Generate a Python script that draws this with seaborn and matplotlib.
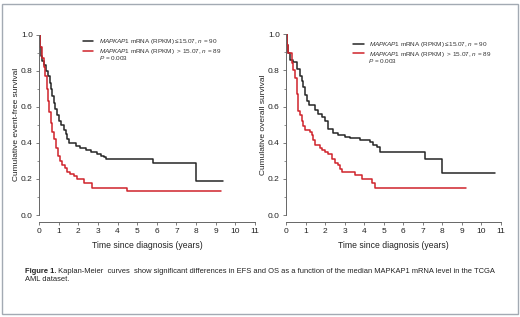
import matplotlib
matplotlib.use("Agg")
import matplotlib.pyplot as plt
from matplotlib.patches import Rectangle
from matplotlib.ticker import MultipleLocator
import seaborn as sns
import pandas as pd

# ---- data ----
efs_low_t = [0, 0.03, 0.08, 0.15, 0.25, 0.35, 0.45, 0.55, 0.62, 0.68, 0.75, 0.82, 0.90, 1.00, 1.10,
             1.25, 1.35, 1.45, 1.55, 1.90, 2.10, 2.40, 2.65, 2.95, 3.15, 3.30, 3.42, 5.83, 7.99, 9.39]
efs_low_s = [1.0, 0.93, 0.88, 0.855, 0.83, 0.80, 0.77, 0.73, 0.70, 0.66, 0.62, 0.59, 0.555, 0.52, 0.50,
             0.47, 0.45, 0.42, 0.40, 0.38, 0.37, 0.36, 0.35, 0.34, 0.33, 0.32, 0.31, 0.287, 0.19, 0.19]
efs_high_t = [0, 0.05, 0.15, 0.25, 0.33, 0.40, 0.47, 0.53, 0.60, 0.67, 0.75, 0.85, 0.95, 1.05, 1.15,
              1.30, 1.45, 1.60, 1.80, 1.95, 2.30, 2.72, 4.50, 9.25]
efs_high_s = [1.0, 0.93, 0.87, 0.82, 0.77, 0.70, 0.63, 0.57, 0.51, 0.46, 0.42, 0.37, 0.33, 0.30, 0.28,
              0.26, 0.24, 0.23, 0.215, 0.20, 0.18, 0.148, 0.133, 0.133]

os_low_t = [0, 0.05, 0.12, 0.20, 0.38, 0.55, 0.72, 0.80, 0.89, 0.97, 1.06, 1.20, 1.49, 1.66, 1.83,
            2.00, 2.17, 2.42, 2.68, 3.00, 3.28, 3.79, 4.30, 4.47, 4.65, 4.82, 7.14, 7.97, 10.7]
os_low_s = [1.0, 0.94, 0.895, 0.86, 0.845, 0.81, 0.77, 0.74, 0.71, 0.664, 0.63, 0.61, 0.58, 0.56, 0.54,
            0.52, 0.475, 0.455, 0.443, 0.434, 0.424, 0.415, 0.405, 0.39, 0.378, 0.347, 0.312, 0.233, 0.233]
os_high_t = [0, 0.05, 0.12, 0.29, 0.38, 0.46, 0.55, 0.63, 0.72, 0.80, 0.89, 0.97, 1.23, 1.31, 1.40,
             1.49, 1.74, 1.83, 2.00, 2.17, 2.34, 2.51, 2.68, 2.77, 2.85, 3.53, 3.88, 4.40, 4.56, 9.22]
os_high_s = [1.0, 0.94, 0.895, 0.84, 0.80, 0.76, 0.67, 0.575, 0.553, 0.52, 0.49, 0.47, 0.46, 0.44, 0.415,
             0.385, 0.37, 0.36, 0.35, 0.335, 0.31, 0.29, 0.275, 0.255, 0.236, 0.222, 0.198, 0.178, 0.151, 0.151]

label_low = r"$\mathit{MAPK\!AP1}$ mRNA (RPKM) ≤15.07, $\mathit{n}$ = 90"
label_high = r"$\mathit{MAPK\!AP1}$ mRNA (RPKM)  > 15.07, $\mathit{n}$ = 89"
p_text = r"$\mathit{P}$ = 0.003"
ylabels = ["Cumulative event-free survival", "Cumulative overall survival"]
xlabel = "Time since diagnosis (years)"
caption_bold = "Figure 1."
caption_rest1 = " Kaplan-Meier  curves  show significant differences in EFS and OS as a function of the median MAPKAP1 mRNA level in the TCGA"
caption_rest2 = "AML dataset."

colors = {"low": "#262626", "high": "#d0232b"}

sns.set_theme(style="ticks")
plt.rcParams["font.family"] = ["Liberation Sans", "DejaVu Sans"]
plt.rcParams["mathtext.fontset"] = "custom"
plt.rcParams["mathtext.rm"] = "Liberation Sans"
plt.rcParams["mathtext.it"] = "Liberation Sans:italic"

W, H = 520, 317
fig = plt.figure(figsize=(W / 100, H / 100), dpi=100)

def px_axes(l, r, t, b):
    return fig.add_axes([l / W, 1 - b / H, (r - l) / W, (b - t) / H])

axes = [px_axes(39, 255, 34.7, 215), px_axes(286, 500.7, 34.3, 215)]
datasets = [(efs_low_t, efs_low_s, efs_high_t, efs_high_s),
            (os_low_t, os_low_s, os_high_t, os_high_s)]
leg_anchor = [(0.202, 0.985), (0.311, 0.968)]
p_pos = [(0.279, 0.868), (0.382, 0.851)]

for ax, (lt, ls, ht, hs), ylab, la, pp in zip(axes, datasets, ylabels, leg_anchor, p_pos):
    df = pd.concat([
        pd.DataFrame({"t": lt, "s": ls, "g": "low"}),
        pd.DataFrame({"t": ht, "s": hs, "g": "high"}),
    ], ignore_index=True)
    sns.lineplot(data=df, x="t", y="s", hue="g", palette=colors, estimator=None, sort=False,
                 drawstyle="steps-post", linewidth=1.1, ax=ax, legend=False)
    ax.set_xlim(0, 11)
    ax.set_ylim(0, 1.0)
    ax.set_xticks(range(0, 12))
    ax.set_yticks([0, 0.2, 0.4, 0.6, 0.8, 1.0])
    ax.yaxis.set_minor_locator(MultipleLocator(0.1))
    ax.set_yticklabels(["0.0", "0.2", "0.4", "0.6", "0.8", "1.0"])
    for s in ["top", "right"]:
        ax.spines[s].set_visible(False)
    for s in ["left", "bottom"]:
        ax.spines[s].set_color("#666666")
        ax.spines[s].set_linewidth(0.7)
    ax.spines["bottom"].set_position(("outward", 5))
    ax.tick_params(axis="both", which="major", length=2.5, width=0.6, color="#666666",
                   labelsize=6.0, labelcolor="#222222", pad=2)
    ax.tick_params(axis="y", which="minor", length=1.5, width=0.5, color="#666666")
    ax.set_xlabel(xlabel, fontsize=6.2, color="#222222", labelpad=4)
    ax.set_ylabel(ylab, fontsize=6.0, color="#222222", labelpad=0.8)
    lines = ax.get_lines()
    leg = ax.legend(lines[:2], [label_low, label_high], loc="upper left", bbox_to_anchor=la,
                    frameon=False, fontsize=4.6, handlelength=1.7, handletextpad=0.85,
                    labelspacing=0.1, borderaxespad=0, borderpad=0, labelcolor="#333333")
    for h in leg.legend_handles:
        h.set_linewidth(1.1)
    ax.text(pp[0], pp[1], p_text, transform=ax.transAxes, fontsize=4.6, color="#333333",
            ha="left", va="center")

# caption
cap_fs = 5.45
y1 = 1 - 271.5 / H
y2 = 1 - 279.3 / H
tb = fig.text(25 / W, y1, caption_bold, fontsize=cap_fs, fontweight="bold", color="#222222",
              ha="left", va="center")
fig.canvas.draw()
bb = tb.get_window_extent(renderer=fig.canvas.get_renderer())
fig.text(bb.x1 / W, y1, caption_rest1, fontsize=cap_fs, color="#222222", ha="left", va="center")
fig.text(25 / W, y2, caption_rest2, fontsize=cap_fs, color="#222222", ha="left", va="center")

# outer frame
fig.patches.append(Rectangle((2 / W, 1 - 314 / H), 516 / W, 310 / H, transform=fig.transFigure,
                             fill=False, edgecolor="#a3aab3", linewidth=1.0))

fig.savefig("out.png", dpi=100, facecolor="white")
